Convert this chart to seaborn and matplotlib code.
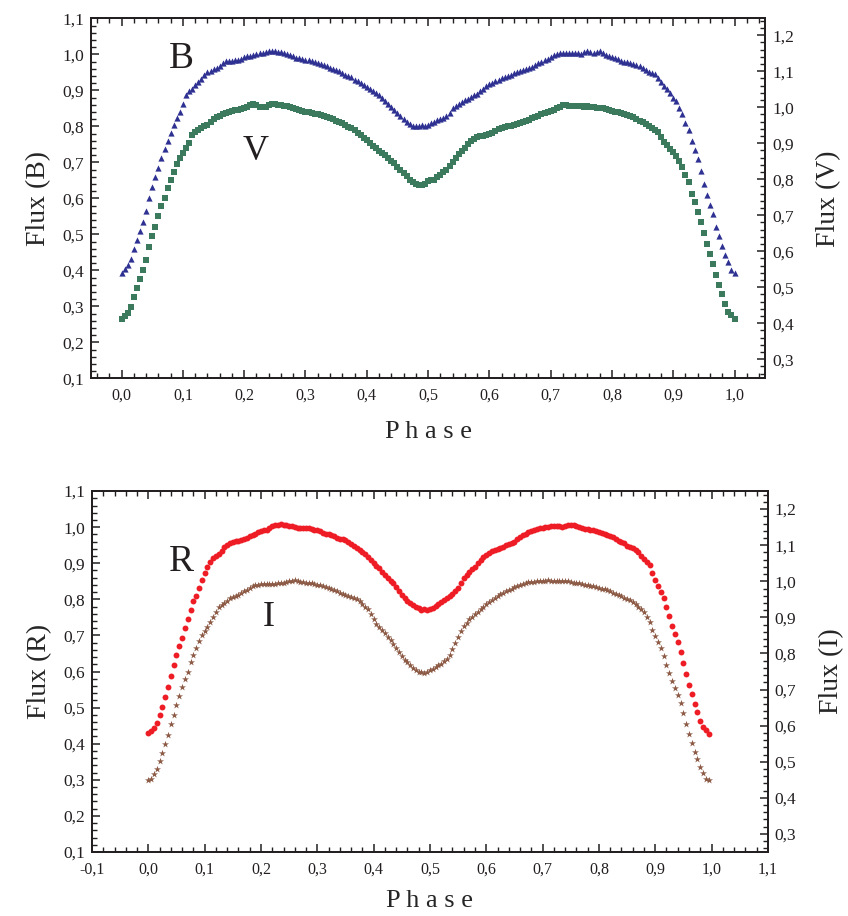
import numpy as np
import matplotlib
matplotlib.use("Agg")
import matplotlib.pyplot as plt
import seaborn as sns
from matplotlib.ticker import MultipleLocator, FuncFormatter

# --- Light curve data ---
# top panel: B (left axis) and V (right axis), phase 0.000 .. 1.000 step 0.005
phase_bv = np.round(np.arange(201) * 0.005, 3)
b_flux = [
    0.393, 0.403, 0.414, 0.432, 0.458, 0.484, 0.508, 0.535, 0.566, 0.600,
    0.632, 0.658, 0.684, 0.712, 0.736, 0.758, 0.781, 0.804, 0.823, 0.841,
    0.863, 0.886, 0.898, 0.905, 0.915, 0.924, 0.932, 0.942, 0.950, 0.955,
    0.958, 0.962, 0.968, 0.976, 0.982, 0.981, 0.982, 0.983, 0.984, 0.988,
    0.992, 0.994, 0.996, 0.998, 1.001, 1.003, 1.005, 1.007, 1.009, 1.010,
    1.008, 1.006, 1.007, 1.004, 1.002, 0.998, 0.994, 0.991, 0.989, 0.986,
    0.985, 0.984, 0.982, 0.978, 0.975, 0.973, 0.970, 0.967, 0.963, 0.959,
    0.957, 0.953, 0.948, 0.943, 0.940, 0.936, 0.930, 0.925, 0.921, 0.915,
    0.909, 0.903, 0.897, 0.892, 0.886, 0.878, 0.870, 0.862, 0.853, 0.845,
    0.837, 0.828, 0.820, 0.812, 0.806, 0.802, 0.800, 0.801, 0.803, 0.802,
    0.804, 0.808, 0.813, 0.818, 0.820, 0.823, 0.828, 0.838, 0.850, 0.856,
    0.862, 0.867, 0.872, 0.877, 0.882, 0.886, 0.891, 0.897, 0.904, 0.912,
    0.917, 0.921, 0.926, 0.930, 0.933, 0.936, 0.939, 0.943, 0.947, 0.950,
    0.953, 0.956, 0.960, 0.963, 0.966, 0.970, 0.975, 0.980, 0.984, 0.988,
    0.993, 0.997, 1.000, 1.003, 1.004, 1.005, 1.003, 1.004, 1.005, 1.004,
    1.002, 1.006, 1.010, 1.007, 1.004, 1.007, 1.009, 1.004, 0.999, 0.996,
    0.993, 0.990, 0.986, 0.982, 0.980, 0.978, 0.976, 0.973, 0.971, 0.968,
    0.963, 0.957, 0.952, 0.948, 0.944, 0.934, 0.922, 0.912, 0.904, 0.893,
    0.880, 0.870, 0.852, 0.834, 0.810, 0.790, 0.760, 0.733, 0.708, 0.675,
    0.640, 0.610, 0.582, 0.556, 0.520, 0.494, 0.468, 0.443, 0.422, 0.402,
    0.392,
]
v_flux = [
    0.411, 0.419, 0.428, 0.445, 0.472, 0.497, 0.522, 0.549, 0.577, 0.612,
    0.641, 0.667, 0.697, 0.725, 0.747, 0.775, 0.799, 0.819, 0.841, 0.859,
    0.874, 0.888, 0.902, 0.922, 0.932, 0.938, 0.943, 0.948, 0.952, 0.958,
    0.967, 0.973, 0.977, 0.980, 0.984, 0.987, 0.989, 0.991, 0.993, 0.996,
    0.998, 1.001, 1.005, 1.008, 1.006, 1.001, 1.000, 1.002, 1.007, 1.010,
    1.009, 1.007, 1.005, 1.004, 1.003, 1.000, 0.997, 0.995, 0.993, 0.990,
    0.987, 0.986, 0.984, 0.982, 0.980, 0.978, 0.976, 0.974, 0.970, 0.966,
    0.963, 0.960, 0.955, 0.950, 0.946, 0.942, 0.937, 0.929, 0.923, 0.915,
    0.909, 0.901, 0.893, 0.887, 0.879, 0.873, 0.866, 0.859, 0.852, 0.844,
    0.835, 0.827, 0.818, 0.808, 0.799, 0.792, 0.786, 0.784, 0.785, 0.788,
    0.794, 0.797, 0.799, 0.805, 0.812, 0.819, 0.827, 0.837, 0.849, 0.859,
    0.869, 0.879, 0.888, 0.897, 0.905, 0.912, 0.917, 0.919, 0.921, 0.923,
    0.925, 0.928, 0.934, 0.939, 0.941, 0.944, 0.947, 0.949, 0.951, 0.953,
    0.955, 0.959, 0.962, 0.965, 0.969, 0.972, 0.976, 0.980, 0.983, 0.987,
    0.990, 0.993, 0.997, 1.001, 1.005, 1.006, 1.004, 1.003, 1.003, 1.004,
    1.003, 1.002, 1.003, 1.002, 1.001, 0.999, 0.998, 0.997, 0.994, 0.991,
    0.989, 0.988, 0.986, 0.983, 0.981, 0.979, 0.976, 0.973, 0.967, 0.963,
    0.958, 0.953, 0.947, 0.941, 0.936, 0.930, 0.917, 0.903, 0.894, 0.884,
    0.875, 0.864, 0.850, 0.835, 0.812, 0.792, 0.759, 0.737, 0.708, 0.682,
    0.652, 0.619, 0.593, 0.565, 0.533, 0.507, 0.480, 0.453, 0.432, 0.422,
    0.411,
]

# bottom panel: R (left axis) and I (right axis), phase 0.000 .. 0.995
phase_ri = np.round(np.arange(200) * 0.005, 3)
r_flux = [
    0.429, 0.434, 0.443, 0.458, 0.479, 0.503, 0.530, 0.557, 0.588, 0.618,
    0.646, 0.671, 0.692, 0.720, 0.745, 0.770, 0.795, 0.810, 0.832, 0.853,
    0.873, 0.890, 0.903, 0.915, 0.920, 0.926, 0.935, 0.944, 0.951, 0.956,
    0.959, 0.961, 0.962, 0.964, 0.967, 0.971, 0.975, 0.978, 0.982, 0.986,
    0.989, 0.991, 0.993, 0.997, 1.002, 1.005, 1.007, 1.008, 1.007, 1.006,
    1.004, 1.002, 1.000, 0.999, 0.998, 0.998, 0.999, 0.997, 0.995, 0.993,
    0.991, 0.988, 0.985, 0.982, 0.980, 0.978, 0.975, 0.971, 0.968, 0.966,
    0.964, 0.958, 0.953, 0.947, 0.941, 0.936, 0.930, 0.925, 0.918, 0.910,
    0.900, 0.892, 0.887, 0.877, 0.867, 0.858, 0.852, 0.845, 0.833, 0.822,
    0.811, 0.803, 0.795, 0.789, 0.785, 0.780, 0.775, 0.771, 0.772, 0.771,
    0.773, 0.775, 0.781, 0.787, 0.793, 0.799, 0.805, 0.810, 0.815, 0.822,
    0.832, 0.845, 0.860, 0.868, 0.876, 0.883, 0.890, 0.900, 0.910, 0.918,
    0.923, 0.928, 0.933, 0.937, 0.940, 0.943, 0.946, 0.950, 0.953, 0.955,
    0.960, 0.966, 0.972, 0.977, 0.982, 0.986, 0.989, 0.992, 0.995, 0.997,
    0.999, 1.000, 1.001, 1.002, 1.003, 1.003, 1.002, 1.001, 1.003, 1.005,
    1.007, 1.006, 1.003, 1.000, 0.997, 0.995, 0.994, 0.993, 0.991, 0.989,
    0.987, 0.984, 0.981, 0.978, 0.975, 0.972, 0.967, 0.963, 0.959, 0.955,
    0.949, 0.945, 0.941, 0.936, 0.930, 0.921, 0.912, 0.903, 0.894, 0.874,
    0.853, 0.836, 0.820, 0.803, 0.780, 0.753, 0.727, 0.704, 0.683, 0.653,
    0.624, 0.594, 0.564, 0.538, 0.509, 0.488, 0.464, 0.447, 0.437, 0.427,
]
i_flux = [
    0.449, 0.452, 0.465, 0.480, 0.502, 0.524, 0.548, 0.575, 0.605, 0.630,
    0.656, 0.682, 0.706, 0.728, 0.750, 0.777, 0.795, 0.815, 0.835, 0.850,
    0.862, 0.874, 0.886, 0.900, 0.916, 0.928, 0.935, 0.940, 0.946, 0.953,
    0.956, 0.959, 0.962, 0.967, 0.972, 0.977, 0.982, 0.986, 0.989, 0.990,
    0.992, 0.993, 0.992, 0.993, 0.992, 0.993, 0.994, 0.995, 0.996, 0.998,
    1.000, 1.002, 1.003, 1.001, 0.998, 0.997, 0.996, 0.996, 0.994, 0.992,
    0.991, 0.989, 0.986, 0.984, 0.981, 0.978, 0.975, 0.972, 0.968, 0.965,
    0.962, 0.960, 0.956, 0.954, 0.950, 0.945, 0.938, 0.930, 0.922, 0.910,
    0.895, 0.883, 0.874, 0.864, 0.857, 0.847, 0.837, 0.827, 0.815, 0.804,
    0.793, 0.783, 0.775, 0.767, 0.760, 0.755, 0.750, 0.748, 0.747, 0.749,
    0.753, 0.757, 0.762, 0.767, 0.772, 0.778, 0.786, 0.797, 0.812, 0.830,
    0.847, 0.862, 0.875, 0.885, 0.895, 0.902, 0.909, 0.915, 0.922, 0.930,
    0.936, 0.942, 0.948, 0.953, 0.959, 0.964, 0.968, 0.972, 0.976, 0.980,
    0.983, 0.986, 0.990, 0.993, 0.995, 0.997, 0.998, 0.999, 1.000, 1.001,
    1.001, 1.002, 1.003, 1.002, 1.000, 1.001, 1.002, 1.001, 1.000, 1.001,
    0.999, 0.996, 0.996, 0.995, 0.993, 0.991, 0.989, 0.987, 0.986, 0.984,
    0.982, 0.980, 0.979, 0.976, 0.972, 0.968, 0.965, 0.962, 0.959, 0.955,
    0.952, 0.948, 0.944, 0.938, 0.930, 0.922, 0.914, 0.902, 0.887, 0.866,
    0.849, 0.832, 0.814, 0.792, 0.768, 0.745, 0.724, 0.705, 0.685, 0.662,
    0.635, 0.605, 0.577, 0.551, 0.528, 0.508, 0.485, 0.470, 0.453, 0.450,
]

# --- Style ---
sns.set_style("ticks")
plt.rcParams["font.family"] = ["Liberation Serif", "DejaVu Serif"]
ink = "#231f20"
plt.rcParams["axes.edgecolor"] = ink
plt.rcParams["xtick.color"] = ink
plt.rcParams["ytick.color"] = ink
plt.rcParams["text.color"] = ink

comma = FuncFormatter(lambda v, pos: f"{v:.1f}".replace(".", ","))


def dress(ax, twin, xlim, ylim, ylim2, left_label, right_label, xpad):
    ax.set_xlim(*xlim)
    ax.set_ylim(*ylim)
    twin.set_ylim(*ylim2)
    ax.xaxis.set_major_locator(MultipleLocator(0.1))
    ax.xaxis.set_minor_locator(MultipleLocator(0.02))
    for a in (ax, twin):
        a.yaxis.set_major_locator(MultipleLocator(0.1))
        a.yaxis.set_minor_locator(MultipleLocator(0.02))
        a.yaxis.set_major_formatter(comma)
        for s in a.spines.values():
            s.set_linewidth(1.3)
    ax.xaxis.set_major_formatter(comma)
    ax.tick_params(axis="x", which="both", direction="in", top=True, bottom=True,
                   labelsize=11.5, pad=7)
    ax.tick_params(axis="y", which="both", direction="in", left=True, right=False,
                   labelsize=12.5, pad=5)
    twin.tick_params(axis="y", which="both", direction="in", right=True, left=False,
                     labelsize=12.5, pad=5)
    for a in (ax, twin):
        a.tick_params(which="major", length=6, width=1.1)
        a.tick_params(which="minor", length=3.5, width=1.0)
    ax.set_xlabel("P h a s e", fontsize=19, labelpad=xpad)
    ax.set_ylabel(left_label, fontsize=20, labelpad=8)
    twin.set_ylabel(right_label, fontsize=20, labelpad=16)


fig = plt.figure(figsize=(8.48, 9.16), dpi=100)

# --- Top panel: B and V ---
ax1 = fig.add_axes([0.1073, 0.587, 0.795, 0.393])
ax1b = ax1.twinx()
sns.scatterplot(x=phase_bv, y=b_flux, ax=ax1, marker="^", s=20,
                color="#2e3192", linewidth=0)
sns.scatterplot(x=phase_bv, y=v_flux, ax=ax1b, marker="s", s=13,
                color="#3b7a5c", linewidth=0)
dress(ax1, ax1b, (-0.05, 1.05), (0.1, 1.1), (0.247, 1.247),
      "Flux (B)", "Flux (V)", 12)
ax1.text(0.097, 0.987, "B", fontsize=27, ha="center", va="center")
ax1.text(0.218, 0.729, "V", fontsize=26, ha="center", va="center")

# --- Bottom panel: R and I ---
ax2 = fig.add_axes([0.1085, 0.0699, 0.797, 0.394])
ax2b = ax2.twinx()
sns.scatterplot(x=phase_ri, y=r_flux, ax=ax2, marker="o", s=18,
                color="#ee1c25", linewidth=0)
sns.scatterplot(x=phase_ri, y=i_flux, ax=ax2b, marker="*", s=28,
                color="#8c5a45", linewidth=0)
dress(ax2, ax2b, (-0.1, 1.1), (0.1, 1.1), (0.25, 1.25),
      "Flux (R)", "Flux (I)", 9)
ax2.text(0.058, 0.903, "R", fontsize=27, ha="center", va="center")
ax2.text(0.213, 0.751, "I", fontsize=26, ha="center", va="center")

plt.savefig("out.png", dpi=100)
